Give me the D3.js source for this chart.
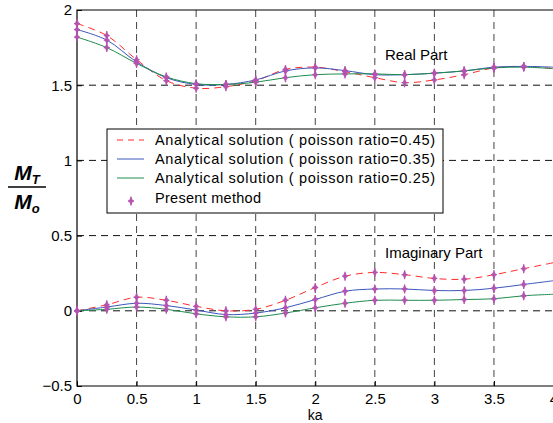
<!DOCTYPE html>
<html><head><meta charset="utf-8">
<script src="https://cdn.jsdelivr.net/npm/d3@7"></script>
<style>body{margin:0;background:#fff}svg{display:block}text{font-family:"Liberation Sans",Arial,sans-serif}</style>
</head><body><svg id="c" width="553" height="423"></svg>
<script>
const ka = [0,0.25,0.5,0.75,1,1.25,1.5,1.75,2,2.25,2.5,2.75,3,3.25,3.5,3.75,4];
const realP45 = [1.91,1.83,1.67,1.53,1.48,1.49,1.53,1.605,1.62,1.59,1.55,1.517,1.535,1.57,1.615,1.625,1.61];
const realP35 = [1.87,1.80,1.655,1.55,1.505,1.505,1.535,1.595,1.615,1.597,1.57,1.57,1.58,1.595,1.62,1.625,1.62];
const realP25 = [1.82,1.75,1.645,1.555,1.51,1.505,1.52,1.55,1.57,1.575,1.575,1.57,1.58,1.595,1.615,1.62,1.61];
const imagP45 = [0,0.04,0.09,0.07,0.03,0.0,0.01,0.07,0.155,0.23,0.255,0.24,0.215,0.21,0.24,0.28,0.32];
const imagP35 = [0,0.025,0.05,0.035,0.005,-0.025,-0.015,0.02,0.075,0.13,0.145,0.145,0.135,0.135,0.15,0.175,0.20];
const imagP25 = [0,0.01,0.025,0.01,-0.02,-0.04,-0.04,-0.015,0.02,0.05,0.07,0.07,0.07,0.075,0.08,0.10,0.11];
const xTicks = [0,0.5,1,1.5,2,2.5,3,3.5,4];
const yTicks = [-0.5,0,0.5,1,1.5,2];
const legendLabels = ["Analytical solution ( poisson ratio=0.45)","Analytical solution ( poisson ratio=0.35)","Analytical solution ( poisson ratio=0.25)","Present method"];
const colors = ["#ff2b2b","#3a56bd","#1e8c4c"];
const markerColor = "#b452b0";

const svg = d3.select("#c");
const L=77, T=10, B=386, R=553.5;
const x = d3.scaleLinear().domain([0,4]).range([L,R]);
const y = d3.scaleLinear().domain([-0.5,2]).range([B,T]);

// grid
const g = svg.append("g");
xTicks.slice(1).forEach(t=>{
  g.append("line").attr("x1",x(t)).attr("x2",x(t)).attr("y1",T).attr("y2",B)
   .attr("stroke","#444").attr("stroke-width",1).attr("stroke-dasharray","7,5");
});
yTicks.slice(1,-1).forEach(t=>{
  g.append("line").attr("x1",L).attr("x2",R+5).attr("y1",y(t)).attr("y2",y(t))
   .attr("stroke","#111").attr("stroke-width",1).attr("stroke-dasharray","7,5");
});

// axes
const xAxis = d3.axisBottom(x).tickValues(xTicks).tickSize(-5).tickPadding(7).tickFormat(d3.format("~g"));
const yAxis = d3.axisLeft(y).tickValues(yTicks).tickSize(-5).tickPadding(5).tickFormat(d3.format("~g"));
const ax = svg.append("g").attr("transform",`translate(0,${B})`).call(xAxis);
const ay = svg.append("g").attr("transform",`translate(${L},0)`).call(yAxis);
[ax,ay].forEach(a=>{
  a.select(".domain").remove();
  a.selectAll("line").attr("stroke","#000");
  a.selectAll("text").attr("font-size",15).attr("fill","#000").attr("font-family","Liberation Sans, Arial, sans-serif");
});
// frame (right edge off-canvas)
svg.append("path").attr("d",`M${R+10},${T}H${L}V${B}H${R+10}`).attr("fill","none").attr("stroke","#000").attr("stroke-width",1.2);

// curves
const seriesSets = [[realP45,realP35,realP25],[imagP45,imagP35,imagP25]];
const line = d3.line().x(d=>x(d[0])).y(d=>y(d[1])).curve(d3.curveCatmullRom.alpha(0.5));
seriesSets.forEach(set=>{
  set.forEach((vals,i)=>{
    svg.append("path").datum(ka.map((k,j)=>[k,vals[j]]))
      .attr("d",line).attr("fill","none").attr("stroke",colors[i]).attr("stroke-width",1)
      .attr("stroke-dasharray", i===0 ? "7,5" : null);
  });
});

// markers
function marker(sel,cx,cy){
  const m = sel.append("g").attr("transform",`translate(${cx},${cy})`);
  m.append("path").attr("d",d3.symbol(d3.symbolDiamond,20)()).attr("fill",markerColor).attr("opacity",0.9);
  m.append("path").attr("d","M0,-4.5V4.5M-3,0H3").attr("stroke",markerColor).attr("stroke-width",1.3);
}
seriesSets.forEach(set=>{
  set.forEach(vals=>{
    ka.forEach((k,j)=>{ if(k<4) marker(svg,x(k),y(vals[j])); });
  });
});

// annotations
svg.append("text").attr("x",385).attr("y",60).attr("font-size",15).text("Real Part");
svg.append("text").attr("x",385).attr("y",258).attr("font-size",15).text("Imaginary Part");
svg.append("text").attr("x",x(2)).attr("y",420).attr("text-anchor","middle").attr("font-size",14).text("ka");

// y label fraction
const yl = svg.append("g").attr("font-family","Liberation Serif, Times New Roman, serif").attr("font-weight","bold").attr("font-style","italic");
const t1 = yl.append("text").attr("x",27).attr("y",180).attr("text-anchor","middle").attr("font-size",21);
t1.append("tspan").text("M");
t1.append("tspan").attr("font-size",13).attr("dy",4).text("T");
svg.append("line").attr("x1",8).attr("x2",46).attr("y1",187).attr("y2",187).attr("stroke","#000").attr("stroke-width",1.5);
const t2 = yl.append("text").attr("x",27).attr("y",209).attr("text-anchor","middle").attr("font-size",21);
t2.append("tspan").text("M");
t2.append("tspan").attr("font-size",13).attr("dy",4).text("o");

// legend
const lg = svg.append("g");
lg.append("rect").attr("x",107).attr("y",129).attr("width",336).attr("height",84).attr("fill","#fff").attr("stroke","#000").attr("stroke-width",1);
const rowY = [140,159,178,198];
legendLabels.forEach((lab,i)=>{
  if(i<3){
    lg.append("line").attr("x1",117).attr("x2",144).attr("y1",rowY[i]).attr("y2",rowY[i])
      .attr("stroke",colors[i]).attr("stroke-width",1).attr("stroke-dasharray", i===0?"6,5":null);
  } else {
    marker(lg,131,rowY[i]+3);
  }
  const t = lg.append("text").attr("x",155).attr("y",rowY[i]+5).attr("font-size",14.5).text(lab);
  t.attr("textLength", i<3 ? 280 : 106).attr("lengthAdjust","spacing");
});
</script></body></html>
